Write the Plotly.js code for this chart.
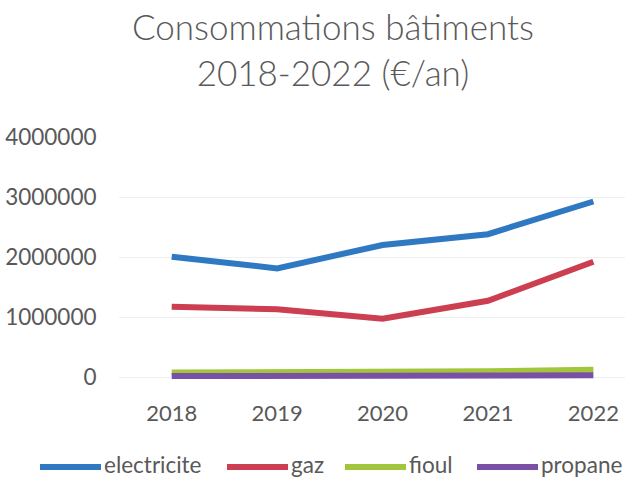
<!DOCTYPE html>
<html>
<head>
<meta charset="utf-8">
<script src="https://cdn.plot.ly/plotly-3.0.1.min.js"></script>
<style>html,body{margin:0;padding:0;background:#fff;}#chart{width:633px;height:479px;}</style>
</head>
<body>
<div id="chart"></div>
<script>
const years = ["2018", "2019", "2020", "2021", "2022"];
const electricite = [2005000, 1810000, 2200000, 2380000, 2925000];
const gaz = [1170000, 1130000, 970000, 1270000, 1920000];
const fioul = [75000, 78000, 85000, 95000, 120000];
const propane = [15000, 17000, 20000, 22000, 28000];
const seriesNames = ["electricite", "gaz", "fioul", "propane"];
const seriesColors = ["#2f78c2", "#cc3f51", "#a2c53c", "#7a50a6"];
const yTicks = [0, 1000000, 2000000, 3000000, 4000000];
const yTickLabels = ["0", "1000000", "2000000", "3000000", "4000000"];

const W = 633, H = 479;
const M = {l: 119, r: 8, t: 137, b: 96};
const font = "Lato, 'Noto Sans', sans-serif";
const values = [electricite, gaz, fioul, propane];

const data = seriesNames.map((n, i) => ({
  x: years, y: values[i], name: n, type: "scatter", mode: "lines",
  line: {color: seriesColors[i], width: 6}, cliponaxis: false, showlegend: false
}));

// legend drawn below the plot (pixel layout positions of each entry)
const legendStartPx = [40, 227, 345, 477];
const legendSymLen = 61, legendSymYpx = 467, legendTextYpx = 464, legendGap = 2;
const pw = W - M.l - M.r, ph = H - M.t - M.b;
const toPX = px => (px - M.l) / pw;
const toPY = py => (H - M.b - py) / ph;
const shapes = [], annotations = [];
seriesNames.forEach((n, i) => {
  const x0 = legendStartPx[i];
  shapes.push({type: "line", xref: "paper", yref: "paper", x0: toPX(x0), x1: toPX(x0 + legendSymLen),
    y0: toPY(legendSymYpx), y1: toPY(legendSymYpx), line: {color: seriesColors[i], width: 6}});
  annotations.push({xref: "paper", yref: "paper", x: toPX(x0 + legendSymLen + legendGap), y: toPY(legendTextYpx),
    xanchor: "left", yanchor: "middle", text: n, showarrow: false, borderpad: 0,
    font: {size: 22.5, color: "#595959", family: font}});
});

const layout = {
  width: W, height: H, margin: M,
  paper_bgcolor: "#fff", plot_bgcolor: "#fff",
  font: {family: font, color: "#595959"},
  title: {text: "Consommations bâtiments<br>2018-2022 (€/an)", font: {size: 35, color: "#595959", family: font, weight: 300},
    xref: "container", x: 0.526, xanchor: "center", yref: "container", y: 0.916, yanchor: "top"},
  xaxis: {type: "category", range: [-0.5, 4.3], showgrid: false, zeroline: false, showline: false,
    ticks: "outside", ticklen: 11, tickcolor: "rgba(0,0,0,0)", tickfont: {size: 22, color: "#595959"}},
  yaxis: {range: [-100000, 4000000], tickvals: yTicks, ticktext: yTickLabels, showgrid: true,
    gridcolor: "#efefef", gridwidth: 1, zeroline: false, showline: false,
    ticks: "outside", ticklen: 17, tickcolor: "rgba(0,0,0,0)", tickfont: {size: 22.5, color: "#595959"}},
  showlegend: false,
  shapes: shapes,
  annotations: annotations
};
Plotly.newPlot("chart", data, layout, {staticPlot: true, displayModeBar: false});
</script>
</body>
</html>
